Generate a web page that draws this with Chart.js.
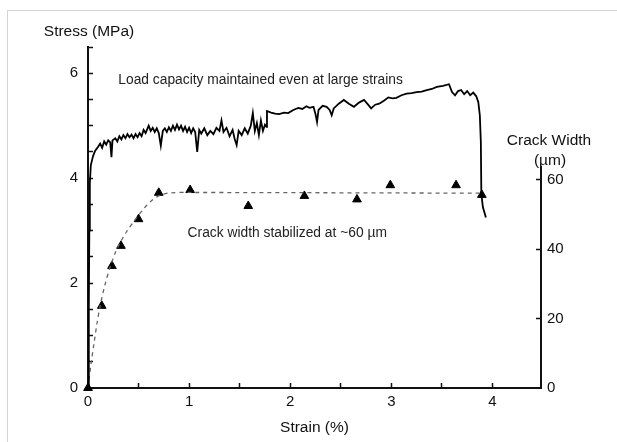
<!DOCTYPE html>
<html>
<head>
<meta charset="utf-8">
<script src="https://cdn.jsdelivr.net/npm/chart.js@4"></script>
<style>
  body { margin: 0; background: #fff; }
  #wrap { position: relative; width: 617px; height: 442px; overflow: hidden; }
  #frame { position: absolute; left: 7px; top: 10px; width: 700px; height: 500px; border: 1px solid #d4d4d4; pointer-events: none; }
  canvas { display: block; }
</style>
</head>
<body>
<div id="wrap">
  <div id="frame"></div>
  <canvas id="chart" width="617" height="442"></canvas>
</div>
<script>
// Stress-strain curve (strain %, stress MPa)
const stressStrain = [0, 0.008, 0.013, 0.018, 0.028, 0.05, 0.07, 0.1, 0.12, 0.14, 0.16, 0.18, 0.2, 0.22, 0.232, 0.242, 0.27, 0.29, 0.31, 0.33,
    0.35, 0.37, 0.39, 0.41, 0.43, 0.45, 0.47, 0.49, 0.51, 0.53, 0.55, 0.57, 0.6, 0.62, 0.64, 0.66, 0.68, 0.7, 0.72, 0.74,
    0.76, 0.78, 0.8, 0.82, 0.84, 0.86, 0.88, 0.9, 0.92, 0.94, 0.96, 0.98, 1.0, 1.02, 1.04, 1.06, 1.08, 1.1, 1.12, 1.15,
    1.18, 1.21, 1.24, 1.27, 1.3, 1.32, 1.34, 1.37, 1.4, 1.43, 1.45, 1.47, 1.49, 1.52, 1.55, 1.58, 1.61, 1.63, 1.65, 1.67,
    1.69, 1.71, 1.73, 1.75, 1.765, 1.77, 1.81, 1.85, 1.89, 1.94, 1.98, 2.03, 2.08, 2.12, 2.16, 2.19, 2.23, 2.25, 2.265, 2.28,
    2.32, 2.36, 2.39, 2.41, 2.43, 2.48, 2.53, 2.58, 2.63, 2.68, 2.73, 2.77, 2.8, 2.84, 2.88, 2.93, 2.97, 3.01, 3.05, 3.1,
    3.15, 3.2, 3.25, 3.3, 3.35, 3.4, 3.45, 3.51, 3.57, 3.6, 3.63, 3.66, 3.69, 3.72, 3.75, 3.78, 3.81, 3.84, 3.86, 3.875,
    3.885, 3.89, 3.905, 3.935];
const stressValues = [0, 1.5, 3.0, 3.9, 4.25, 4.42, 4.52, 4.6, 4.66, 4.58, 4.7, 4.64, 4.72, 4.68, 4.40, 4.72, 4.76, 4.7, 4.8, 4.74,
    4.82, 4.76, 4.84, 4.78, 4.83, 4.76, 4.84, 4.78, 4.86, 4.8, 4.92, 4.86, 5.0, 4.9, 4.96, 4.88, 4.95, 4.86, 4.62, 4.9,
    4.95, 4.88, 4.97, 4.9, 5.0, 4.92, 5.02, 4.93, 5.0, 4.9, 4.98, 4.88, 4.96, 4.86, 4.95, 4.88, 4.5, 4.92, 4.85, 4.95,
    4.82, 4.9, 4.84, 4.96, 4.9, 5.1, 4.88, 4.96, 4.8, 4.92, 4.75, 4.63, 4.9, 4.82, 4.95, 4.85, 5.0, 5.24, 4.9, 5.05,
    4.82, 5.1, 4.9, 5.02, 4.98, 5.28, 5.25, 5.23, 5.22, 5.25, 5.24, 5.3, 5.34, 5.32, 5.37, 5.34, 5.36, 5.22, 5.07, 5.3,
    5.38, 5.36, 5.3, 5.2, 5.33, 5.42, 5.49, 5.42, 5.36, 5.44, 5.49, 5.4, 5.33, 5.4, 5.42, 5.48, 5.54, 5.52, 5.53, 5.58,
    5.61, 5.62, 5.64, 5.65, 5.68, 5.7, 5.74, 5.76, 5.79, 5.64, 5.58, 5.66, 5.68, 5.6, 5.66, 5.58, 5.63, 5.56, 5.45, 5.2,
    4.7, 3.7, 3.45, 3.25];

// Measured crack widths (strain %, width um)
const crackStrain = [0, 0.136, 0.237, 0.326, 0.5, 0.7, 1.01, 1.585, 2.14, 2.66, 2.99, 3.64, 3.895];
const crackValues = [0, 23.7, 35.2, 41.0, 48.7, 56.3, 57.1, 52.5, 55.4, 54.4, 58.5, 58.5, 55.7];

// Dashed trend through crack widths
const fitStrain = [0, 0.03, 0.06, 0.09, 0.12, 0.17, 0.22, 0.27, 0.31, 0.38, 0.47, 0.56, 0.64, 0.72, 0.82, 1.0, 3.89];
const fitValues = [0, 7, 13, 18.8, 23.7, 30, 35, 39, 41.5, 45, 48.7, 52, 54.3, 55.7, 56.3, 56.4, 56.2];

// Tick positions (labels only on whole numbers / every 2 MPa)
const strainTicks = [0, 0.5, 1, 1.5, 2, 2.5, 3, 3.5, 4];
const stressTicks = [0, 0.5, 1, 1.5, 2, 2.5, 3, 3.5, 4, 4.5, 5, 5.5, 6, 6.5];
const crackTicks = [0, 20, 40, 60];

// Axis ranges
const strainMax = 4.48;
const stressMax = 6.5;
const crackMax = 98.36;
const crackAxisTop = 64;

const textFont = 'Liberation Sans, Arial, Helvetica, sans-serif';
Chart.defaults.font.family = textFont;
Chart.defaults.color = '#111';

const toPoints = (xs, ys) => xs.map((x, i) => ({ x: x, y: ys[i] }));
const setTicks = values => scale => { scale.ticks = values.map(v => ({ value: v })); };

// Right axis line stops at 64 um, titles and notes are drawn as text
const overlay = {
    id: 'overlay',
    afterDraw(chart) {
        const { ctx, chartArea, scales: { x, y, y2 } } = chart;
        ctx.save();
        ctx.strokeStyle = '#111';
        ctx.lineWidth = 2;
        ctx.beginPath();
        ctx.moveTo(y2.left, y2.getPixelForValue(0) + 1);
        ctx.lineTo(y2.left, y2.getPixelForValue(crackAxisTop));
        ctx.stroke();

        ctx.fillStyle = '#111';
        ctx.textAlign = 'center';
        ctx.textBaseline = 'middle';
        ctx.font = '15.5px ' + textFont;
        ctx.fillText('Stress (MPa)', chartArea.left + 1, chartArea.top - 15);
        const topY = y2.getPixelForValue(crackAxisTop);
        ctx.fillText('Crack Width', y2.left + 8, topY - 25);
        ctx.fillText('(\u00b5m)', y2.left + 9, topY - 5);

        ctx.fillStyle = '#222';
        ctx.textAlign = 'left';
        ctx.font = '13.8px ' + textFont;
        ctx.fillText('Load capacity maintained even at large strains', x.getPixelForValue(0.3), y.getPixelForValue(5.87));
        ctx.fillText('Crack width stabilized at ~60 \u00b5m', x.getPixelForValue(0.985), y.getPixelForValue(2.95));
        ctx.restore();
    }
};

const tickGrid = {
    drawOnChartArea: false,
    drawTicks: true,
    tickLength: -5,
    tickWidth: 1.5,
    tickColor: '#111'
};

new Chart(document.getElementById('chart'), {
    type: 'scatter',
    data: {
        datasets: [
            {
                label: 'Stress',
                data: toPoints(stressStrain, stressValues),
                showLine: true,
                borderColor: '#000',
                borderWidth: 1.8,
                pointRadius: 0,
                tension: 0,
                yAxisID: 'y'
            },
            {
                label: 'Crack trend',
                data: toPoints(fitStrain, fitValues),
                showLine: true,
                borderColor: '#666',
                borderWidth: 1.3,
                borderDash: [4, 4],
                pointRadius: 0,
                tension: 0.3,
                yAxisID: 'y2'
            },
            {
                label: 'Crack width',
                data: toPoints(crackStrain, crackValues),
                showLine: false,
                pointStyle: 'triangle',
                pointRadius: 5,
                backgroundColor: '#000',
                borderColor: '#000',
                borderWidth: 1,
                clip: false,
                yAxisID: 'y2'
            }
        ]
    },
    options: {
        responsive: false,
        animation: false,
        layout: { padding: { left: 0, right: 0, top: 47, bottom: 0 } },
        plugins: {
            legend: { display: false },
            tooltip: { enabled: false }
        },
        scales: {
            x: {
                type: 'linear',
                position: 'bottom',
                min: 0,
                max: strainMax,
                afterBuildTicks: setTicks(strainTicks),
                afterFit: s => { s.height = 54; },
                border: { color: '#111', width: 2 },
                grid: tickGrid,
                ticks: {
                    padding: 10,
                    maxRotation: 0,
                    autoSkip: false,
                    font: { size: 15 },
                    callback: v => Number.isInteger(v) ? String(v) : ''
                },
                title: {
                    display: true,
                    text: 'Strain (%)',
                    font: { size: 15.5 },
                    padding: { top: 0, bottom: 5 }
                }
            },
            y: {
                type: 'linear',
                position: 'left',
                min: 0,
                max: stressMax,
                afterBuildTicks: setTicks(stressTicks),
                afterFit: s => { s.width = 88; },
                border: { color: '#111', width: 2 },
                grid: tickGrid,
                ticks: {
                    padding: 15,
                    autoSkip: false,
                    font: { size: 15 },
                    callback: v => (v % 2 === 0) ? String(v) : ''
                }
            },
            y2: {
                type: 'linear',
                position: 'right',
                min: 0,
                max: crackMax,
                afterBuildTicks: setTicks(crackTicks),
                afterFit: s => { s.width = 76; },
                border: { display: false },
                grid: Object.assign({}, tickGrid, {
                    tickColor: c => (c.tick && c.tick.value > 0) ? '#111' : 'rgba(0,0,0,0)'
                }),
                ticks: {
                    padding: 11,
                    autoSkip: false,
                    font: { size: 15 },
                    callback: v => String(v)
                }
            }
        }
    },
    plugins: [overlay]
});
</script>
</body>
</html>
